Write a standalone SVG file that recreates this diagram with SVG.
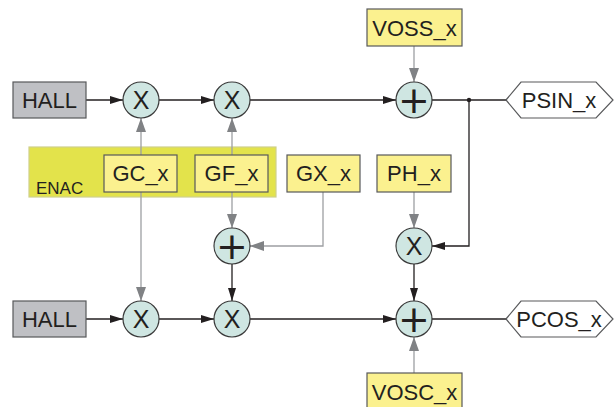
<svg xmlns="http://www.w3.org/2000/svg" width="616" height="407" viewBox="0 0 616 407">
<style>
text{font-family:"Liberation Sans",Arial,sans-serif;fill:#231f20}
.lbl{font-size:22px;text-anchor:middle}
.box{fill:#fbf18f;stroke:#58595b;stroke-width:1.2}
.hall{fill:#bfc0c4;stroke:#58595b;stroke-width:1.2}
.op{fill:#cfe6e2;stroke:#3a3a3a;stroke-width:1.2}
.sym{font-size:25px;text-anchor:middle}
.plus{font-family:"DejaVu Sans",sans-serif;font-size:38px;text-anchor:middle}
.blk{fill:none;stroke:#231f20;stroke-width:1.3;marker-end:url(#ab)}
.gry{fill:none;stroke:#9d9fa2;stroke-width:1.3;marker-end:url(#ag)}
.ln{fill:none;stroke:#231f20;stroke-width:1.3}
.port{fill:#fff;stroke:#58595b;stroke-width:1.2}
</style>
<defs>
<marker id="ab" markerUnits="userSpaceOnUse" markerWidth="13" markerHeight="8" refX="13" refY="4" orient="auto"><path d="M0,0 L13,4 L0,8 Z" fill="#231f20"/></marker>
<marker id="ag" markerUnits="userSpaceOnUse" markerWidth="14" markerHeight="10" refX="14" refY="5" orient="auto"><path d="M0,0 L14,5 L0,10 Z" fill="#808285"/></marker>
</defs>
<g id="enac"><rect x="29" y="147" width="247" height="50" fill="#e3e34b" stroke="#cfd08a" stroke-width="1.2"/><text x="36" y="194" style="font-size:17px">ENAC</text></g>
<g id="connectors">
<path class="blk" d="M86,100 H123"/>
<path class="blk" d="M159,100 H214"/>
<path class="blk" d="M250,100 H396"/>
<path class="ln" d="M432,100 H506"/>
<path class="blk" d="M469,100 V246 H432"/>
<circle cx="469" cy="100" r="2.2" fill="#231f20"/>
<path class="gry" d="M414,46 V82"/>
<path class="gry" d="M141,155 V118"/>
<path class="gry" d="M141,192 V301"/>
<path class="gry" d="M232,155 V118"/>
<path class="gry" d="M232,192 V228"/>
<path class="gry" d="M323,192 V246 H250"/>
<path class="blk" d="M232,264 V301"/>
<path class="blk" d="M86,319 H123"/>
<path class="blk" d="M159,319 H214"/>
<path class="blk" d="M250,319 H396"/>
<path class="gry" d="M414,192 V228"/>
<path class="blk" d="M414,264 V301"/>
<path class="gry" d="M414,373 V337"/>
<path class="ln" d="M432,319 H506"/>
</g>
<g id="hall1"><rect class="hall" x="13" y="82" width="73" height="36"/><text class="lbl" x="49.5" y="108">HALL</text></g>
<g id="hall2"><rect class="hall" x="13" y="301" width="73" height="36"/><text class="lbl" x="49.5" y="327">HALL</text></g>
<g id="gc"><rect class="box" x="104" y="155" width="73" height="37"/><text class="lbl" x="140.5" y="181">GC_x</text></g>
<g id="gf"><rect class="box" x="195" y="155" width="73" height="37"/><text class="lbl" x="231.5" y="181">GF_x</text></g>
<g id="gx"><rect class="box" x="287" y="155" width="73" height="37"/><text class="lbl" x="323.5" y="181">GX_x</text></g>
<g id="ph"><rect class="box" x="377" y="155" width="74" height="37"/><text class="lbl" x="414" y="181">PH_x</text></g>
<g id="voss"><rect class="box" x="367" y="9" width="95" height="37"/><text class="lbl" x="414.5" y="36">VOSS_x</text></g>
<g id="vosc"><rect class="box" x="367" y="373" width="95" height="37"/><text class="lbl" x="414.5" y="400">VOSC_x</text></g>
<g id="mul1"><circle class="op" cx="141" cy="100" r="18"/><text class="sym" x="141" y="109">X</text></g>
<g id="mul2"><circle class="op" cx="232" cy="100" r="18"/><text class="sym" x="232" y="109">X</text></g>
<g id="add1"><circle class="op" cx="414" cy="100" r="18"/><text class="plus" x="414" y="113">+</text></g>
<g id="add2"><circle class="op" cx="232" cy="246" r="18"/><text class="plus" x="232" y="259">+</text></g>
<g id="mul3"><circle class="op" cx="414" cy="246" r="18"/><text class="sym" x="414" y="255">X</text></g>
<g id="mul4"><circle class="op" cx="141" cy="319" r="18"/><text class="sym" x="141" y="328">X</text></g>
<g id="mul5"><circle class="op" cx="232" cy="319" r="18"/><text class="sym" x="232" y="328">X</text></g>
<g id="add3"><circle class="op" cx="414" cy="319" r="18"/><text class="plus" x="414" y="332">+</text></g>
<g id="psin"><path class="port" d="M506,100 L521,82 H596 L613,100 L596,118 H521 Z"/><text class="lbl" x="559" y="108">PSIN_x</text></g>
<g id="pcos"><path class="port" d="M506,319 L521,301 H596 L613,319 L596,337 H521 Z"/><text class="lbl" x="559" y="327">PCOS_x</text></g>
</svg>
